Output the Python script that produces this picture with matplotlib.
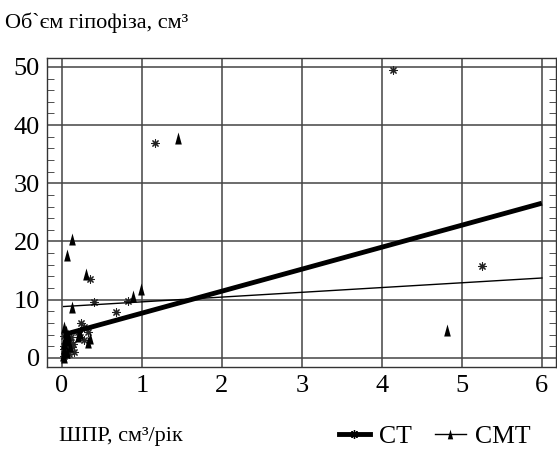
import matplotlib
matplotlib.use("Agg")
import matplotlib.pyplot as plt
from matplotlib.lines import Line2D
import numpy as np

plt.rcParams['font.family'] = 'serif'
plt.rcParams['font.serif'] = ['Liberation Serif', 'DejaVu Serif']

# CT series (asterisks)
ct_x = [4.14, 1.16, 5.25, 0.35, 0.40, 0.82, 0.67, 0.24, 0.27, 0.22, 0.27, 0.20, 0.33,
        0.02, 0.04, 0.03, 0.06, 0.08, 0.05, 0.10, 0.12, 0.07, 0.03, 0.09, 0.14, 0.15, 0.11, 0.02]
ct_y = [49.5, 36.9, 15.8, 13.6, 9.6, 9.7, 7.8, 6.0, 5.3, 3.6, 3.1, 4.5, 4.4,
        0.3, 0.8, 1.5, 1.2, 2.0, 2.5, 2.8, 1.8, 3.2, 3.8, 0.6, 2.4, 1.0, 3.5, 2.1]

# CMT series (triangles)
cmt_x = [1.45, 4.81, 0.12, 0.06, 0.30, 0.13, 0.89, 0.99, 0.33, 0.35, 0.20, 0.22,
         0.01, 0.02, 0.03, 0.04, 0.05, 0.02, 0.06, 0.08, 0.03, 0.07, 0.10]
cmt_y = [37.8, 4.8, 20.5, 17.6, 14.4, 8.7, 10.6, 11.8, 2.8, 3.4, 3.8, 4.3,
         0.5, 1.5, 2.5, 3.5, 4.6, 5.3, 1.0, 3.0, 0.2, 4.0, 2.0]

# regression lines (intercept, slope)
ct_fit = (3.9, 3.78)
cmt_fit = (8.8, 0.82)
fit_x = [0.02, 6.0]

xticks = [0, 1, 2, 3, 4, 5, 6]
yticks = [0, 10, 20, 30, 40, 50]

fig = plt.figure(figsize=(5.57, 4.49), dpi=100)
ax = fig.add_axes([0.0844, 0.183, 0.9136, 0.688])

tri = [(-0.55, -1), (0.55, -1), (0, 1), (-0.55, -1)]
ast = (8, 2, 0)

ax.scatter(ct_x, ct_y, marker=ast, s=28, color='#222222', linewidths=0.8, zorder=3)
ax.scatter(cmt_x, cmt_y, marker=tri, s=75, color='black', linewidths=0, zorder=3)

fx = np.array(fit_x)
ax.plot(fx, ct_fit[0] + ct_fit[1] * fx, color='black', lw=3.5, zorder=4, solid_capstyle='butt')
ax.plot(fx, cmt_fit[0] + cmt_fit[1] * fx, color='black', lw=1.0, zorder=4)

ax.set_xlim(-0.1875, 6.175)
ax.set_ylim(-1.55, 51.55)
ax.set_xticks(xticks)
ax.set_yticks(yticks)
ax.set_yticks(np.arange(0, 52, 2), minor=True)
ax.grid(True, which='major', color='#444444', lw=1.1)
ax.tick_params(axis='x', which='major', length=0, labelsize=19, pad=6)
ax.tick_params(axis='y', which='major', length=0, labelsize=19, pad=5)
ax.tick_params(axis='y', which='minor', length=5, direction='in', left=True, right=True, color='#333333')
for s in ax.spines.values():
    s.set_color('#333333')
    s.set_linewidth(1.0)

fig.text(0.009, 0.95, 'Об`єм гіпофіза, см³', fontsize=16, ha='left', va='center')
fig.text(0.106, 0.027, 'ШПР, см³/рік', fontsize=16, ha='left', va='center')

h1 = Line2D([], [], color='black', lw=3.5, marker=ast, markersize=6, markeredgewidth=1.0)
h2 = Line2D([], [], color='black', lw=1.0, marker=tri, markersize=7, markeredgewidth=0)
fig.legend([h1, h2], ['CT', 'CMT'], loc='center right', bbox_to_anchor=(0.952, 0.027),
           ncol=2, frameon=False, fontsize=18.5, handlelength=1.2, handletextpad=0.35,
           columnspacing=0.9, borderaxespad=0, borderpad=0)

fig.savefig('out.png', dpi=100)
